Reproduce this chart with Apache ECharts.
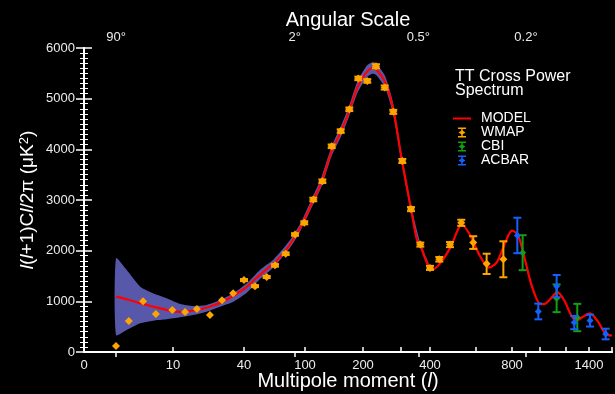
<!DOCTYPE html>
<html><head><meta charset="utf-8">
<script src="https://cdn.jsdelivr.net/npm/echarts@6/dist/echarts.min.js"></script>
<style>html,body{margin:0;padding:0;background:#000;}#c{width:615px;height:394px;}</style>
</head><body><div id="c"></div>
<script>
// ---- axis scale: multipole l -> axis units (the figure uses a stretched, non-linear l axis)
const scaleL = [0, 2, 10, 40, 100, 200, 300, 400, 600, 800, 1000, 1200, 1400, 1600];
const scaleU = [0, 32, 89, 160, 221, 279, 317, 346, 392, 428, 456, 482, 505, 528];
function lToU(l){
  for (let i = 1; i < scaleL.length; i++) {
    if (l <= scaleL[i]) {
      const t = (l - scaleL[i-1]) / (scaleL[i] - scaleL[i-1]);
      return scaleU[i-1] + t * (scaleU[i] - scaleU[i-1]);
    }
  }
  return scaleU[scaleU.length-1];
}

// ---- tick labels
const xTickValues  = [0, 10, 40, 100, 200, 300, 400, 600, 800, 1000, 1200, 1400, 1600];
const xLabelValues = [0, 10, 40, 100, 200, 400, 800, 1400];
const angleDeg     = [90, 2, 0.5, 0.2];
const angleLabels  = ['90°', '2°', '0.5°', '0.2°'];
const yMin = 0, yMax = 6000, yStep = 1000;

// ---- WMAP
const wmapL = [2, 3.8, 5.8, 7.6, 9.9, 15.1, 20.1, 25.6, 30.7, 35.4, 40, 50.8, 62.3, 70.5, 81, 90.2, 99.3, 114.3, 130, 146, 161.6, 176.4, 191.9, 211.3, 234.2, 257.1, 279.7, 304.5, 334.5, 366.6, 400, 440.4, 487, 536, 588, 659, 752];
const wmapV = [120, 610, 1000, 750, 830, 790, 850, 730, 1020, 1160, 1420, 1300, 1480, 1710, 1940, 2320, 2550, 3010, 3370, 4060, 4360, 4790, 5400, 5350, 5640, 5220, 4740, 3770, 2820, 2120, 1660, 1830, 2120, 2550, 2160, 1740, 1830];
const wmapErr = [0, 0, 0, 0, 0, 0, 0, 0, 0, 0, 20, 20, 20, 25, 25, 25, 30, 35, 35, 35, 35, 35, 35, 35, 40, 40, 40, 40, 40, 40, 40, 45, 50, 60, 125, 200, 355];
// ---- CBI
const cbiL = [876, 1128, 1298];
const cbiV = [1960, 1060, 680];
const cbiErr = [345, 273, 270];
// ---- ACBAR
const acbarL = [838, 988, 1128, 1272, 1409, 1545];
const acbarV = [2300, 800, 1300, 580, 620, 355];
const acbarErr = [350, 155, 220, 130, 118, 105];
// ---- MODEL
const modelL = [2, 3.5, 5.8, 7.6, 9.9, 13, 20, 25, 31, 40, 50, 62, 70, 81, 95, 114, 128, 146, 162, 176, 191, 210, 224, 234, 258, 279, 303, 334, 355, 366, 383, 400, 413, 444, 487, 526, 539, 574, 622, 672, 717, 761, 800, 843, 893, 943, 1000, 1031, 1085, 1131, 1185, 1252, 1296, 1348, 1409, 1478, 1548, 1600];
const modelV = [1092, 1040, 947, 882, 806, 790, 829, 888, 993, 1243, 1421, 1632, 1763, 2000, 2441, 2990, 3340, 3960, 4350, 4750, 5240, 5530, 5600, 5580, 5330, 4810, 3790, 2840, 2210, 2120, 1850, 1650, 1638, 1750, 2050, 2460, 2507, 2310, 1895, 1665, 1780, 2145, 2394, 2310, 1816, 1290, 950, 945, 1060, 1180, 1026, 697, 632, 697, 764, 598, 349, 330];
// ---- cosmic variance band
const bandL  = [2, 3.5, 5.4, 7.2, 9.1, 13, 18.6, 24.2, 29.9, 35.5, 42.7, 55.7, 68.8, 85, 95, 114, 128, 146, 162, 176, 191, 210, 224, 234, 258, 279, 303, 334, 366, 400];
const bandLo = [335, 434, 566, 618, 645, 685, 730, 796, 895, 993, 1170, 1440, 1670, 2050, 2370, 2910, 3250, 3870, 4250, 4650, 5130, 5420, 5490, 5470, 5220, 4700, 3700, 2770, 2070, 1620];
const bandHi = [1848, 1618, 1289, 1158, 1059, 947, 908, 928, 1026, 1158, 1355, 1620, 1820, 2200, 2520, 3080, 3440, 4060, 4460, 4860, 5360, 5650, 5720, 5700, 5450, 4920, 3890, 2910, 2170, 1680];

const FONT = "'Liberation Sans', Arial, Helvetica, sans-serif";
const TXT = '#ececec';
const C_WMAP = '#ffa500', C_CBI = '#12a012', C_ACBAR = '#1460ff', C_MODEL = '#ff0000', C_BAND = '#5858aa';

function errData(L, V, E){ return L.map((l,i)=>[lToU(l), V[i], V[i]-E[i], V[i]+E[i]]); }
function errRender(color, dh){
  return function(params, api){
    const x = api.value(0), y = api.value(1), lo = api.value(2), hi = api.value(3);
    const p = api.coord([x, y]);
    const children = [];
    if (hi > lo) {
      const pl = api.coord([x, lo]), ph = api.coord([x, hi]);
      const st = {stroke: color, lineWidth: 2};
      children.push({type:'line', shape:{x1:p[0], y1:pl[1], x2:p[0], y2:ph[1]}, style: st});
      children.push({type:'line', shape:{x1:p[0]-4, y1:pl[1], x2:p[0]+4, y2:pl[1]}, style: st});
      children.push({type:'line', shape:{x1:p[0]-4, y1:ph[1], x2:p[0]+4, y2:ph[1]}, style: st});
    }
    children.push({type:'polygon', shape:{points:[[p[0]-dh, p[1]], [p[0], p[1]-dh], [p[0]+dh, p[1]], [p[0], p[1]+dh]]}, style:{fill: color}});
    return {type:'group', children};
  };
}
function bandRender(params, api){
  if (params.dataIndex !== 0) return null;
  const up = bandL.map((l,i)=>api.coord([lToU(l), bandHi[i]]));
  const dn = bandL.map((l,i)=>api.coord([lToU(l), bandLo[i]])).reverse();
  return {type:'polygon', shape:{points: up.concat(dn), smooth:0.2}, style:{fill:C_BAND}};
}

const ERR_ICON  = 'path://M0,5M18,5M5,0H13V1.5H9.75V3.2L12.5,5L9.75,6.8V8.5H13V10H5V8.5H8.25V6.8L5.5,5L8.25,3.2V1.5H5Z';
const LINE_ICON = 'path://M0,0M18,10M0,4H18V6H0Z';

const xTickU = xTickValues.map(lToU);
const xLabelU = xLabelValues.map(lToU);
const angleU = angleDeg.map(d => lToU(180 / d));
function nearestLabel(v, us, labels){
  let best = 0;
  for (let i = 1; i < us.length; i++) if (Math.abs(us[i]-v) < Math.abs(us[best]-v)) best = i;
  return labels[best];
}
const uMax = lToU(1600);

const chart = echarts.init(document.getElementById('c'), null, {renderer:'canvas'});
const axisLineStyle = {color:'#fff', width:2};
chart.setOption({
  backgroundColor: '#000',
  animation: false,
  textStyle: {fontFamily: FONT},
  title: {
    text: 'TT Cross Power\nSpectrum', left: 455, top: 70, padding: 0,
    textStyle: {color:'#fff', fontSize:16, fontWeight:'normal', lineHeight:14, fontFamily: FONT}
  },
  legend: {
    orient: 'vertical', left: 453, top: 111.5, padding: 0, itemGap: 0,
    itemWidth: 18, itemHeight: 10,
    textStyle: {color:'#fff', fontSize:14, lineHeight:13.5, fontFamily: FONT, padding:[0,0,0,5]},
    data: [
      {name:'MODEL', icon: LINE_ICON},
      {name:'WMAP', icon: ERR_ICON},
      {name:'CBI', icon: ERR_ICON},
      {name:'ACBAR', icon: ERR_ICON}
    ]
  },
  grid: {left:84, right:3, top:48, bottom:42, containLabel:false, outerBoundsMode:'none'},
  xAxis: [{
    type:'value', min:0, max:uMax, position:'bottom',
    axisLine:{show:true, lineStyle:axisLineStyle},
    axisTick:{show:true, inside:true, length:5, customValues:xTickU, lineStyle:{color:'#fff', width:1.5}},
    axisLabel:{color:TXT, fontSize:13, margin:7, customValues:xLabelU,
      formatter: v => String(nearestLabel(v, xLabelU, xLabelValues))},
    splitLine:{show:false},
    name:'Multipole moment ({i|l})', nameLocation:'middle', nameGap:19, nameMoveOverlap:false,
    nameTextStyle:{color:'#fff', fontSize:20, fontFamily:FONT, rich:{i:{fontStyle:'italic', fontSize:20, color:'#fff', fontFamily:FONT}}}
  },{
    type:'value', min:0, max:uMax, position:'top',
    axisLine:{show:true, lineStyle:axisLineStyle},
    axisTick:{show:true, inside:true, length:5, customValues:angleU, lineStyle:{color:'#fff', width:1.5}},
    axisLabel:{color:TXT, fontSize:13, margin:4, customValues:angleU,
      formatter: v => nearestLabel(v, angleU, angleLabels)},
    splitLine:{show:false},
    name:'Angular Scale', nameLocation:'middle', nameGap:18, nameMoveOverlap:false,
    nameTextStyle:{color:'#fff', fontSize:20, fontFamily:FONT}
  }],
  yAxis: [{
    type:'value', min:yMin, max:yMax, interval:yStep, position:'left',
    axisLine:{show:true, lineStyle:axisLineStyle},
    axisTick:{show:true, inside:true, length:8, lineStyle:{color:'#fff', width:1.5}},
    minorTick:{show:true, splitNumber:10, length:4, lineStyle:{color:'#fff', width:1}},
    axisLabel:{color:TXT, fontSize:13, margin:9, formatter: v => String(v)},
    splitLine:{show:false}, minorSplitLine:{show:false},
    name:'{i|l}({i|l}+1)C{i|l}/2π (μK{s|2})', nameLocation:'middle', nameGap:47, nameRotate:90, nameMoveOverlap:false,
    nameTextStyle:{color:'#fff', fontSize:19, fontFamily:FONT,
      rich:{i:{fontStyle:'italic', fontSize:19, color:'#fff', fontFamily:FONT},
            s:{fontSize:13, color:'#fff', fontFamily:FONT, verticalAlign:'top', padding:[0,0,6,0]}}}
  },{
    type:'value', min:yMin, max:yMax, interval:yStep, position:'right',
    axisLine:{show:true, lineStyle:axisLineStyle},
    axisTick:{show:true, inside:true, length:8, lineStyle:{color:'#fff', width:1.5}},
    minorTick:{show:true, splitNumber:10, length:4, lineStyle:{color:'#fff', width:1}},
    axisLabel:{show:false}, splitLine:{show:false}, minorSplitLine:{show:false}
  }],
  series: [
    {
      name:'band', type:'custom', z:1, silent:true, renderItem: bandRender, encode:{x:0, y:1},
      data: bandL.map((l,i)=>[lToU(l), bandLo[i], bandHi[i]])
    },
    {
      name:'MODEL', type:'line', symbol:'none', showSymbol:false, smooth:0.3, z:2,
      color: C_MODEL, lineStyle:{color:C_MODEL, width:2.2},
      data: modelL.map((l,i)=>[lToU(l), modelV[i]])
    },
    {name:'WMAP', type:'custom', z:3, color:C_WMAP, renderItem: errRender(C_WMAP, 4), encode:{x:0, y:1}, data: errData(wmapL, wmapV, wmapErr)},
    {name:'CBI', type:'custom', z:3, color:C_CBI, renderItem: errRender(C_CBI, 3.5), encode:{x:0, y:1}, data: errData(cbiL, cbiV, cbiErr)},
    {name:'ACBAR', type:'custom', z:3, color:C_ACBAR, renderItem: errRender(C_ACBAR, 3.5), encode:{x:0, y:1}, data: errData(acbarL, acbarV, acbarErr)}
  ]
});
</script></body></html>
